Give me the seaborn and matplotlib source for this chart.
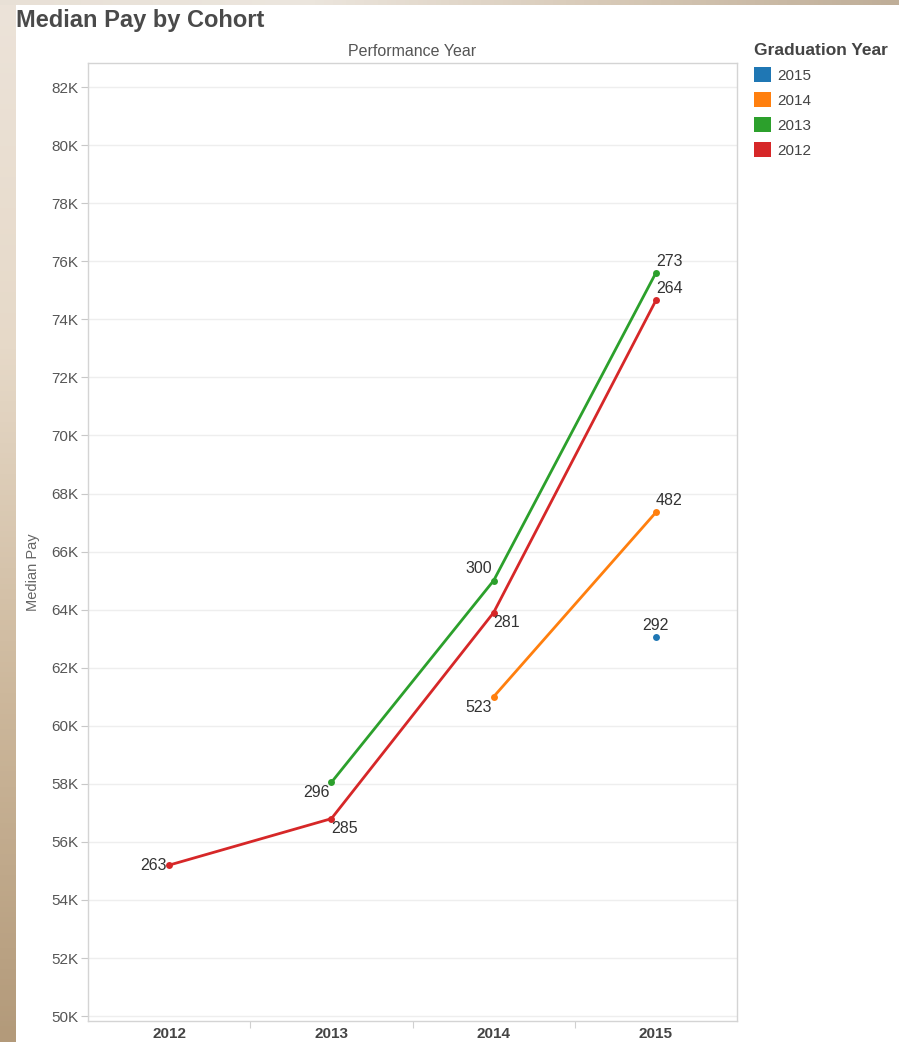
import numpy as np
import pandas as pd
import matplotlib
matplotlib.use("Agg")
import matplotlib.pyplot as plt
from matplotlib.patches import Patch
import seaborn as sns

# ---- data ----
perf_years = [2012, 2013, 2014, 2015]
grad_order = ["2015", "2014", "2013", "2012"]
colors = ["#1f77b4", "#ff7f0e", "#2ca02c", "#d62728"]

cohort_2012_years = [2012, 2013, 2014, 2015]
cohort_2012_pay = [55200, 56800, 63900, 74650]
cohort_2012_n = [263, 285, 281, 264]

cohort_2013_years = [2013, 2014, 2015]
cohort_2013_pay = [58050, 65000, 75600]
cohort_2013_n = [296, 300, 273]

cohort_2014_years = [2014, 2015]
cohort_2014_pay = [61000, 67350]
cohort_2014_n = [523, 482]

cohort_2015_years = [2015]
cohort_2015_pay = [63050]
cohort_2015_n = [292]

y_ticks = list(range(50000, 84000, 2000))

rows = []
for g, yrs, pay, n in [("2012", cohort_2012_years, cohort_2012_pay, cohort_2012_n),
                       ("2013", cohort_2013_years, cohort_2013_pay, cohort_2013_n),
                       ("2014", cohort_2014_years, cohort_2014_pay, cohort_2014_n),
                       ("2015", cohort_2015_years, cohort_2015_pay, cohort_2015_n)]:
    for yr, p, c in zip(yrs, pay, n):
        rows.append({"Graduation Year": g, "Performance Year": yr, "Median Pay": p, "N": c})
df = pd.DataFrame(rows)

palette = dict(zip(grad_order, colors))

sns.set_theme(style="white")
plt.rcParams["font.family"] = ["Liberation Sans", "DejaVu Sans"]

fig = plt.figure(figsize=(8.99, 10.42), dpi=100)
fig.patch.set_facecolor("white")

# photo-like background strips (decor)
bg = fig.add_axes([0, 0, 16 / 899, 1], zorder=-5)
grad = np.linspace(0, 1, 200)[:, None]
bg.imshow(grad, aspect="auto", cmap=matplotlib.colors.LinearSegmentedColormap.from_list(
    "bgc", ["#ece3d9", "#e6d9c8", "#cdb89c", "#b39a7a"]), extent=[0, 1, 0, 1], origin="upper")
bg.axis("off")
top = fig.add_axes([0, 1 - 5 / 1042, 1, 5 / 1042], zorder=-5)
top.imshow(np.linspace(0, 1, 200)[None, :], aspect="auto",
           cmap=matplotlib.colors.LinearSegmentedColormap.from_list("tc", ["#e8e0d6", "#ece6de", "#d8cab8", "#bfae98"]))
top.axis("off")

ax = fig.add_axes([88 / 899, 1 - 1021 / 1042, (737 - 88) / 899, (1021 - 63) / 1042])

sns.lineplot(data=df, x="Performance Year", y="Median Pay", hue="Graduation Year",
             hue_order=grad_order, palette=palette, marker="o", markersize=5,
             markeredgewidth=0, linewidth=2, legend=False, ax=ax, estimator=None, sort=True)

ax.set_xlim(2011.5, 2015.5)
ax.set_ylim(49830, 82830)
ax.set_yticks(y_ticks)
ax.set_yticklabels([f"{v // 1000}K" for v in y_ticks])
ax.set_xticks(perf_years)
ax.set_xticklabels([str(y) for y in perf_years])
ax.yaxis.grid(True, color="#eeeeee", linewidth=1)
ax.xaxis.grid(False)
ax.set_axisbelow(True)
for s in ax.spines.values():
    s.set_color("#d4d4d4")
    s.set_linewidth(1)
ax.tick_params(axis="y", left=True, length=5, width=0.8, color="#c8c8c8",
               labelsize=11, labelcolor="#555555", pad=2)
ax.tick_params(axis="x", which="major", bottom=False, length=0, labelsize=11,
               labelcolor="#444444", pad=4)
for lbl in ax.get_xticklabels():
    lbl.set_fontweight("bold")
# category divider ticks on the x axis
ax.set_xticks([2012.5, 2013.5, 2014.5], minor=True)
ax.tick_params(axis="x", which="minor", bottom=True, length=5, width=0.8, color="#d0d0d0")

ax.set_xlabel("")
ax.set_ylabel("Median Pay", fontsize=10.5, color="#666666")
ax.yaxis.set_label_coords(-0.074, 0.469)
ax.set_title("Performance Year", fontsize=11.5, color="#555555", pad=5)

# ---- point labels ----
label_style = {
    ("2012", 2012): ((-2, 0), "right", "center"),
    ("2012", 2013): ((0, -2), "left", "top"),
    ("2012", 2014): ((0, -2), "left", "top"),
    ("2012", 2015): ((0, 3), "left", "bottom"),
    ("2013", 2013): ((-1, -2), "right", "top"),
    ("2013", 2014): ((-1, 3), "right", "bottom"),
    ("2013", 2015): ((0, 3), "left", "bottom"),
    ("2014", 2014): ((-1, -2), "right", "top"),
    ("2014", 2015): ((0, 3), "left", "bottom"),
    ("2015", 2015): ((0, 3), "center", "bottom"),
}
for _, r in df.iterrows():
    off, ha, va = label_style[(r["Graduation Year"], r["Performance Year"])]
    ax.annotate(str(r["N"]), (r["Performance Year"], r["Median Pay"]), xytext=off,
                textcoords="offset points", ha=ha, va=va, fontsize=11.5, color="#333333")

# ---- title & legend ----
fig.text(16 / 899, 1 - 20 / 1042, "Median Pay by Cohort", fontsize=17, fontweight="bold",
         color="#4a4a4a", ha="left", va="center")

handles = [Patch(facecolor=palette[g], edgecolor="none") for g in grad_order]
leg = fig.legend(handles, grad_order, loc="upper left",
                 bbox_to_anchor=(754 / 899, 1 - 43 / 1042), frameon=False,
                 title="Graduation Year", alignment="left", fontsize=11,
                 handlelength=1.1, handleheight=1.1, handletextpad=0.45,
                 labelspacing=0.62, borderaxespad=0, borderpad=0)
leg.get_title().set_fontweight("bold")
leg.get_title().set_fontsize(12.5)
leg.get_title().set_color("#444444")
for t in leg.get_texts():
    t.set_color("#444444")

fig.savefig("out.png", dpi=100)
